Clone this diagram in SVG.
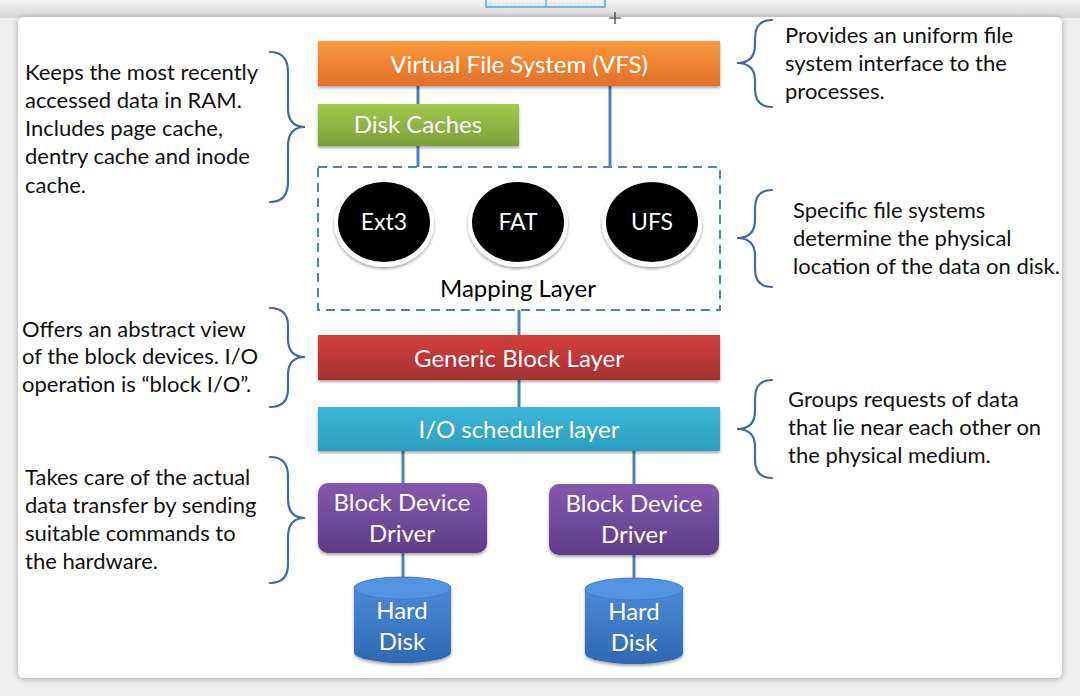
<svg xmlns="http://www.w3.org/2000/svg" width="1080" height="696" viewBox="0 0 1080 696">
<defs>
<linearGradient id="gTop" x1="0" y1="0" x2="0" y2="1"><stop offset="0" stop-color="#f4f4f4"/><stop offset="1" stop-color="#d6d6d6"/></linearGradient>
<linearGradient id="gOrange" x1="0" y1="0" x2="0" y2="1"><stop offset="0" stop-color="#f99a3d"/><stop offset="1" stop-color="#e26f28"/></linearGradient>
<linearGradient id="gGreen" x1="0" y1="0" x2="0" y2="1"><stop offset="0" stop-color="#a0c94d"/><stop offset="1" stop-color="#7ba03b"/></linearGradient>
<linearGradient id="gRed" x1="0" y1="0" x2="0" y2="1"><stop offset="0" stop-color="#d33f3d"/><stop offset="1" stop-color="#a5302e"/></linearGradient>
<linearGradient id="gCyan" x1="0" y1="0" x2="0" y2="1"><stop offset="0" stop-color="#3db7d9"/><stop offset="1" stop-color="#2a9ec0"/></linearGradient>
<linearGradient id="gPurple" x1="0" y1="0" x2="0" y2="1"><stop offset="0" stop-color="#825aad"/><stop offset="1" stop-color="#5f3c86"/></linearGradient>
<linearGradient id="gBlue" x1="0" y1="0" x2="0" y2="1"><stop offset="0" stop-color="#4f8edb"/><stop offset="1" stop-color="#2e69b3"/></linearGradient>
<filter id="shadow" x="-10%" y="-20%" width="120%" height="150%"><feDropShadow dx="0" dy="2" stdDeviation="1.5" flood-color="#000" flood-opacity="0.35"/></filter>
<filter id="cardShadow" x="-5%" y="-5%" width="110%" height="110%"><feDropShadow dx="0" dy="1" stdDeviation="3" flood-color="#000" flood-opacity="0.3"/></filter>
<pattern id="grid" width="4" height="4" patternUnits="userSpaceOnUse"><path d="M4 0V4M0 4H4" stroke="#cfe3f5" stroke-width="0.6" fill="none"/></pattern>
</defs>
<style>
.box{filter:url(#shadow)}
.lbl{font-family:Lato,"Liberation Sans",sans-serif;fill:#ffffff;text-anchor:middle}
.note{font-family:Lato,"Liberation Sans",sans-serif;fill:#111111;font-size:22px}
.brace{fill:none;stroke:#44699e;stroke-width:2.2;stroke-linecap:round}
.conn{stroke:#4f81bd;stroke-width:3;fill:none}
</style>
<rect x="0" y="0" width="1080" height="696" fill="#eeeeee"/>
<rect x="0" y="0" width="1080" height="18" fill="url(#gTop)"/>
<rect x="486" y="-2" width="119" height="9" fill="url(#grid)" stroke="#4aa8f0" stroke-width="1.5"/>
<line x1="546" y1="0" x2="546" y2="7" stroke="#4aa8f0" stroke-width="1.2"/>
<rect x="18" y="17" width="1044" height="661" rx="6" fill="#ffffff" filter="url(#cardShadow)"/>
<path d="M615 12V24M609 18H621" stroke="#333" stroke-width="1.2"/>

<g id="connectors">
<line class="conn" x1="418" y1="86" x2="418" y2="104"/>
<line class="conn" x1="418" y1="146" x2="418" y2="167"/>
<line class="conn" x1="610" y1="86" x2="610" y2="167"/>
<line class="conn" x1="519" y1="310" x2="519" y2="335"/>
<line class="conn" x1="519" y1="380" x2="519" y2="407"/>
<line class="conn" x1="403" y1="451" x2="403" y2="483"/>
<line class="conn" x1="634" y1="451" x2="634" y2="484"/>
<line class="conn" x1="403" y1="553" x2="403" y2="580"/>
<line class="conn" x1="634" y1="555" x2="634" y2="581"/>
</g>

<g id="vfs">
<rect class="box" x="318" y="41" width="402" height="45" fill="url(#gOrange)"/>
<text class="lbl" x="519" y="73" font-size="24">Virtual File System (VFS)</text>
</g>
<g id="disk-caches">
<rect class="box" x="318" y="104" width="201" height="42" fill="url(#gGreen)"/>
<text class="lbl" x="418" y="133" font-size="24">Disk Caches</text>
</g>
<g id="mapping-layer">
<rect x="318" y="167" width="402" height="143" fill="none" stroke="#4f81bd" stroke-width="2" stroke-dasharray="9,6"/>
<text x="518" y="297" font-family="Lato,'Liberation Sans',sans-serif" font-size="24" fill="#000" text-anchor="middle">Mapping Layer</text>
</g>
<g id="ext3">
<ellipse cx="384" cy="223" rx="50" ry="44" fill="#ffffff" filter="url(#shadow)"/>
<ellipse cx="384" cy="222" rx="46" ry="40" fill="#000"/>
<text class="lbl" x="384" y="230" font-size="23">Ext3</text>
</g>
<g id="fat">
<ellipse cx="518" cy="223" rx="50" ry="44" fill="#ffffff" filter="url(#shadow)"/>
<ellipse cx="518" cy="222" rx="46" ry="40" fill="#000"/>
<text class="lbl" x="518" y="230" font-size="23">FAT</text>
</g>
<g id="ufs">
<ellipse cx="652" cy="223" rx="50" ry="44" fill="#ffffff" filter="url(#shadow)"/>
<ellipse cx="652" cy="222" rx="46" ry="40" fill="#000"/>
<text class="lbl" x="652" y="230" font-size="23">UFS</text>
</g>
<g id="generic-block">
<rect class="box" x="318" y="335" width="402" height="45" fill="url(#gRed)"/>
<text class="lbl" x="519" y="367" font-size="24">Generic Block Layer</text>
</g>
<g id="io-scheduler">
<rect class="box" x="318" y="407" width="402" height="44" fill="url(#gCyan)"/>
<text class="lbl" x="519" y="438" font-size="24">I/O scheduler layer</text>
</g>
<g id="bdd-left">
<rect class="box" x="318" y="483" width="169" height="70" rx="10" fill="url(#gPurple)"/>
<text class="lbl" x="402" y="511" font-size="24">Block Device</text>
<text class="lbl" x="402" y="542" font-size="24">Driver</text>
</g>
<g id="bdd-right">
<rect class="box" x="549" y="484" width="170" height="71" rx="10" fill="url(#gPurple)"/>
<text class="lbl" x="634" y="512" font-size="24">Block Device</text>
<text class="lbl" x="634" y="543" font-size="24">Driver</text>
</g>
<g id="disk-left">
<path class="box" d="M354 588 A48.5 11 0 0 1 451 588 V652 A48.5 11 0 0 1 354 652 Z" fill="url(#gBlue)"/>
<ellipse cx="402.5" cy="588" rx="48.5" ry="11" fill="#5294e0" stroke="#3a78c4" stroke-width="0.8"/>
<text class="lbl" x="402" y="619" font-size="24">Hard</text>
<text class="lbl" x="402" y="650" font-size="24">Disk</text>
</g>
<g id="disk-right">
<path class="box" d="M585 589 A49 11 0 0 1 683 589 V653 A49 11 0 0 1 585 653 Z" fill="url(#gBlue)"/>
<ellipse cx="634" cy="589" rx="49" ry="11" fill="#5294e0" stroke="#3a78c4" stroke-width="0.8"/>
<text class="lbl" x="634" y="620" font-size="24">Hard</text>
<text class="lbl" x="634" y="651" font-size="24">Disk</text>
</g>

<g id="note-caches">
<path class="brace" d="M270 52 Q288 52 288 72 V108 Q288 127 305 127 Q288 127 288 146 V182 Q288 202 270 202"/>
<text class="note" x="25" y="80">Keeps the most recently</text>
<text class="note" x="25" y="108">accessed data in RAM.</text>
<text class="note" x="25" y="136">Includes page cache,</text>
<text class="note" x="25" y="164">dentry cache and inode</text>
<text class="note" x="25" y="193">cache.</text>
</g>
<g id="note-block">
<path class="brace" d="M270 308 Q288 308 288 326 V339 Q288 357 305 357 Q288 357 288 375 V389 Q288 407 270 407"/>
<text class="note" x="22" y="337">Offers an abstract view</text>
<text class="note" x="22" y="364">of the block devices. I/O</text>
<text class="note" x="22" y="392">operation is “block I/O”.</text>
</g>
<g id="note-driver">
<path class="brace" d="M270 457 Q288 457 288 476 V499 Q288 518 305 518 Q288 518 288 537 V564 Q288 583 270 583"/>
<text class="note" x="25" y="485">Takes care of the actual</text>
<text class="note" x="25" y="513">data transfer by sending</text>
<text class="note" x="25" y="541">suitable commands to</text>
<text class="note" x="25" y="569">the hardware.</text>
</g>
<g id="note-vfs">
<path class="brace" d="M772 20 Q755 20 755 38 V45 Q755 63 737 63 Q755 63 755 81 V89 Q755 107 772 107"/>
<text class="note" x="785" y="43">Provides an uniform file</text>
<text class="note" x="785" y="71">system interface to the</text>
<text class="note" x="785" y="99">processes.</text>
</g>
<g id="note-fs">
<path class="brace" d="M772 190 Q755 190 755 208 V220 Q755 238 737 238 Q755 238 755 256 V269 Q755 287 772 287"/>
<text class="note" x="793" y="218">Specific file systems</text>
<text class="note" x="793" y="246">determine the physical</text>
<text class="note" x="793" y="274">location of the data on disk.</text>
</g>
<g id="note-sched">
<path class="brace" d="M772 380 Q755 380 755 398 V411 Q755 429 737 429 Q755 429 755 447 V460 Q755 478 772 478"/>
<text class="note" x="788" y="407">Groups requests of data</text>
<text class="note" x="788" y="435">that lie near each other on</text>
<text class="note" x="788" y="463">the physical medium.</text>
</g>
</svg>
